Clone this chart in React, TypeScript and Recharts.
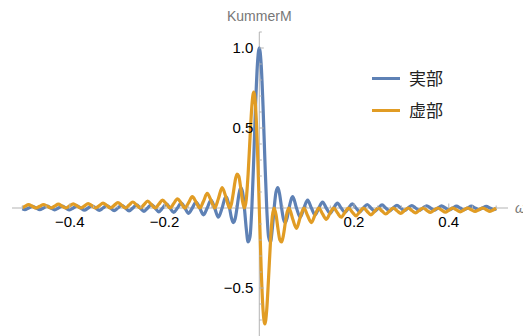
import React from 'react';
import { LineChart, Line, XAxis, YAxis, ReferenceLine, ReferenceDot } from 'recharts';

const omega = [
  -0.5, -0.4948, -0.4869, -0.4791, -0.4712, -0.4634, -0.4555, -0.4477, -0.4398, -0.432, -0.4241, -0.4163, -0.4084, -0.4006,
  -0.3927, -0.3848, -0.377, -0.3691, -0.3613, -0.3534, -0.3456, -0.3377, -0.3299, -0.322, -0.3142, -0.3063, -0.2985, -0.2906,
  -0.2827, -0.2749, -0.267, -0.2592, -0.2513, -0.2435, -0.2356, -0.2278, -0.2199, -0.2121, -0.2042, -0.1963, -0.1885, -0.1806,
  -0.1728, -0.1649, -0.1571, -0.1492, -0.1414, -0.1335, -0.1257, -0.1178, -0.11, -0.1021, -0.0942, -0.0864, -0.0785, -0.0707,
  -0.0628, -0.0589, -0.055, -0.0511, -0.0471, -0.0432, -0.0393, -0.0353, -0.0314, -0.0275, -0.0236, -0.0196, -0.0157, -0.0118,
  -0.0079, -0.0039, 0,
  0.0039, 0.0079, 0.0118, 0.0157, 0.0196, 0.0236, 0.0275, 0.0314, 0.0353, 0.0393, 0.0432, 0.0471, 0.0511, 0.055, 0.0589, 0.0628,
  0.0707, 0.0785, 0.0864, 0.0942, 0.1021, 0.11, 0.1178, 0.1257, 0.1335, 0.1414, 0.1492, 0.1571, 0.1649, 0.1728, 0.1806, 0.1885,
  0.1963, 0.2042, 0.2121, 0.2199, 0.2278, 0.2356, 0.2435, 0.2513, 0.2592, 0.267, 0.2749, 0.2827, 0.2906, 0.2985, 0.3063, 0.3142,
  0.322, 0.3299, 0.3377, 0.3456, 0.3534, 0.3613, 0.3691, 0.377, 0.3848, 0.3927, 0.4006, 0.4084, 0.4163, 0.4241, 0.432, 0.4398,
  0.4477, 0.4555, 0.4634, 0.4712, 0.4791, 0.4869, 0.4948, 0.5,
];

const realPart = [
  -0.005, -0.0101, 0, 0.0104, 0, -0.0108, 0, 0.0112, 0, -0.0116, 0, 0.012, 0, -0.0125, 0, 0.013, 0, -0.0135, 0, 0.0141, 0,
  -0.0148, 0, 0.0155, 0, -0.0163, 0, 0.0172, 0, -0.0182, 0, 0.0193, 0, -0.0205, 0, 0.022, 0, -0.0236, 0, 0.0255, 0, -0.0277, 0,
  0.0303, 0, -0.0335, 0, 0.0374, 0, -0.0424, 0, 0.049, 0, -0.0579, 0, 0.0707, 0,
  -0.06, -0.0909, -0.0693, 0, 0.0818, 0.1273, 0.1, 0, -0.1286, -0.2122, -0.1801, 0, 0.3001, 0.6366, 0.9003, 1,
  0.9003, 0.6366, 0.3001, 0, -0.1801, -0.2122, -0.1286, 0, 0.1, 0.1273, 0.0818, 0, -0.0693, -0.0909, -0.06, 0,
  0.0707, 0, -0.0579, 0, 0.049, 0, -0.0424, 0, 0.0374, 0, -0.0335, 0, 0.0303, 0, -0.0277, 0, 0.0255, 0, -0.0236, 0, 0.022, 0,
  -0.0205, 0, 0.0193, 0, -0.0182, 0, 0.0172, 0, -0.0163, 0, 0.0155, 0, -0.0148, 0, 0.0141, 0, -0.0135, 0, 0.013, 0, -0.0125, 0,
  0.012, 0, -0.0116, 0, 0.0112, 0, -0.0108, 0, 0.0104, 0, -0.0101, -0.005,
];

const imagPart = [
  0.001, 0.0101, 0.0205, 0.0104, 0, 0.0108, 0.022, 0.0112, 0, 0.0116, 0.0236, 0.012, 0, 0.0125, 0.0255, 0.013, 0, 0.0135,
  0.0277, 0.0141, 0, 0.0148, 0.0303, 0.0155, 0, 0.0163, 0.0335, 0.0172, 0, 0.0182, 0.0374, 0.0193, 0, 0.0205, 0.0424, 0.022, 0,
  0.0236, 0.049, 0.0255, 0, 0.0277, 0.0579, 0.0303, 0, 0.0335, 0.0707, 0.0374, 0, 0.0424, 0.0909, 0.049, 0, 0.0579, 0.1273,
  0.0707, 0,
  0.0249, 0.0909, 0.1672, 0.2122, 0.1976, 0.1273, 0.0414, 0, 0.0533, 0.2122, 0.4347, 0.6366, 0.7246, 0.6366, 0.3729, 0,
  -0.3729, -0.6366, -0.7246, -0.6366, -0.4347, -0.2122, -0.0533, 0, -0.0414, -0.1273, -0.1976, -0.2122, -0.1672, -0.0909, -0.0249, 0,
  -0.0707, -0.1273, -0.0579, 0, -0.049, -0.0909, -0.0424, 0, -0.0374, -0.0707, -0.0335, 0, -0.0303, -0.0579, -0.0277, 0, -0.0255,
  -0.049, -0.0236, 0, -0.022, -0.0424, -0.0205, 0, -0.0193, -0.0374, -0.0182, 0, -0.0172, -0.0335, -0.0163, 0, -0.0155, -0.0303,
  -0.0148, 0, -0.0141, -0.0277, -0.0135, 0, -0.013, -0.0255, -0.0125, 0, -0.012, -0.0236, -0.0116, 0, -0.0112, -0.022, -0.0108, 0,
  -0.0104, -0.0205, -0.0101, -0.001,
];

const seriesNames = ['実部', '虚部'];
const seriesColors = ['#5E81B5', '#E19C24'];
const xTicks = [-0.4, -0.2, 0.2, 0.4];
const xTickLabels = ['\u22120.4', '\u22120.2', '0.2', '0.4'];
const xMinorTicks = [-0.5, -0.45, -0.35, -0.3, -0.25, -0.15, -0.1, -0.05, 0.05, 0.1, 0.15, 0.25, 0.3, 0.35, 0.45, 0.5];
const yTicks = [-0.5, 0.5, 1.0];
const yTickLabels = ['\u22120.5', '0.5', '1.0'];
const yMinorTicks = [-0.7, -0.6, -0.4, -0.3, -0.2, -0.1, 0.1, 0.2, 0.3, 0.4, 0.6, 0.7, 0.8, 0.9, 1.1];
const yAxisLabel = 'KummerM';
const xAxisLabel = 'ω';

const data = omega.map((w, i) => ({ w, re: realPart[i], im: imagPart[i] }));

const AXIS = '#b3b3b3';
const FONT = '"Liberation Sans", Arial, Helvetica, sans-serif';

const vTick = (len: number) => (p: any) => (
  <line x1={p.cx} x2={p.cx} y1={p.cy} y2={p.cy - len} stroke={AXIS} strokeWidth={1} />
);
const hTick = (len: number) => (p: any) => (
  <line x1={p.cx} x2={p.cx + len} y1={p.cy} y2={p.cy} stroke={AXIS} strokeWidth={1} />
);
const noDot = () => <g />;

const LegendBox = () => (
  <div
    style={{
      position: 'absolute',
      left: 372,
      top: 62,
      fontFamily: '"Noto Sans CJK JP", sans-serif',
    }}
  >
    {seriesNames.map((n, i) => (
      <div key={n} style={{ display: 'flex', alignItems: 'center', height: 32 }}>
        <span style={{ display: 'inline-block', width: 28, height: 3, background: seriesColors[i] }} />
        <span style={{ marginLeft: 9, fontSize: 17, color: '#222', lineHeight: '20px' }}>{n}</span>
      </div>
    ))}
  </div>
);

export default function App() {
  return (
    <div style={{ position: 'absolute', left: 0, top: 0, width: 523, height: 336, fontFamily: FONT }}>
      <LineChart width={523} height={336} data={data} margin={{ top: 32, right: 15, bottom: 0, left: 12 }}>
        <XAxis type="number" dataKey="w" domain={[-0.522, 0.525]} hide allowDataOverflow />
        <YAxis type="number" domain={[-0.8, 1.1]} hide allowDataOverflow />
        <ReferenceLine y={0} stroke={AXIS} strokeWidth={1} ifOverflow="visible" />
        <ReferenceLine x={0} stroke={AXIS} strokeWidth={1} ifOverflow="visible" />
        {xMinorTicks.map((t) => (
          <ReferenceDot key={'xm' + t} x={t} y={0} r={0} shape={vTick(2.5)} ifOverflow="visible" />
        ))}
        {yMinorTicks.map((t) => (
          <ReferenceDot key={'ym' + t} x={0} y={t} r={0} shape={hTick(2.5)} ifOverflow="visible" />
        ))}
        {xTicks.map((t, i) => (
          <ReferenceDot
            key={'x' + t}
            x={t}
            y={0}
            r={0}
            shape={vTick(4.5)}
            ifOverflow="visible"
            label={{ value: xTickLabels[i], position: 'bottom', offset: 8, fill: '#000', fontSize: 15 }}
          />
        ))}
        {yTicks.map((t, i) => (
          <ReferenceDot
            key={'y' + t}
            x={0}
            y={t}
            r={0}
            shape={hTick(4.5)}
            ifOverflow="visible"
            label={{ value: yTickLabels[i], position: 'left', offset: 6, fill: '#000', fontSize: 15 }}
          />
        ))}
        <ReferenceDot
          x={0}
          y={1.1}
          r={0}
          shape={noDot}
          ifOverflow="visible"
          label={{ value: yAxisLabel, position: 'top', offset: 11, fill: '#777', fontSize: 14 }}
        />
        <ReferenceDot
          x={0.525}
          y={0}
          r={0}
          shape={noDot}
          ifOverflow="visible"
          label={{ value: xAxisLabel, position: 'right', offset: 7, fill: '#777', fontSize: 14, fontStyle: 'italic' }}
        />
        <Line
          name={seriesNames[0]}
          dataKey="re"
          type="monotone"
          stroke={seriesColors[0]}
          strokeWidth={3.2}
          dot={false}
          activeDot={false}
          isAnimationActive={false}
        />
        <Line
          name={seriesNames[1]}
          dataKey="im"
          type="monotone"
          stroke={seriesColors[1]}
          strokeWidth={3.2}
          dot={false}
          activeDot={false}
          isAnimationActive={false}
        />
      </LineChart>
      <LegendBox />
    </div>
  );
}
